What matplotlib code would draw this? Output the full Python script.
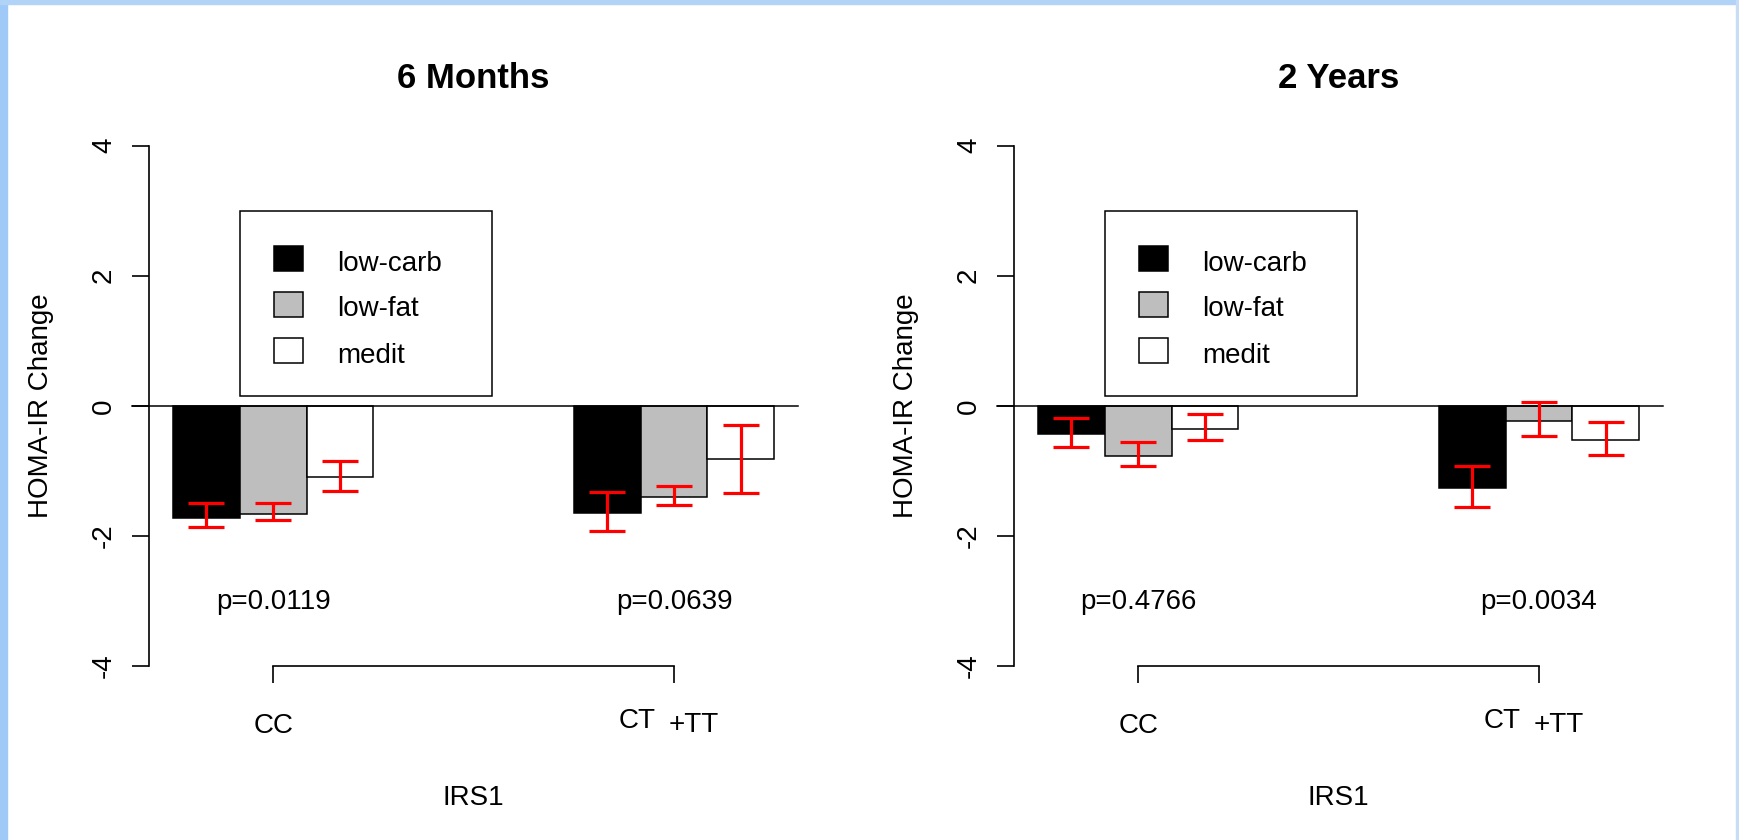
import matplotlib
matplotlib.use("Agg")
import numpy as np
import matplotlib.pyplot as plt
from matplotlib.patches import Rectangle

plt.rcParams['font.family'] = ['Liberation Sans', 'DejaVu Sans']

# HOMA-IR change by IRS1 genotype and diet
panels = ["6 Months", "2 Years"]
genotypes = ["CC", "CT+TT"]
diets = ["low-carb", "low-fat", "medit"]
diet_colors = ["black", "#bebebe", "white"]

# bar heights, ordered CC (low-carb, low-fat, medit), CT+TT (low-carb, low-fat, medit)
means_6m = [-1.72, -1.66, -1.10, -1.64, -1.40, -0.82]
means_2y = [-0.43, -0.77, -0.35, -1.27, -0.24, -0.52]
# error bar ends
err_lo_6m = [-1.87, -1.75, -1.31, -1.93, -1.53, -1.34]
err_hi_6m = [-1.50, -1.50, -0.85, -1.33, -1.24, -0.30]
err_lo_2y = [-0.64, -0.92, -0.53, -1.56, -0.47, -0.75]
err_hi_2y = [-0.19, -0.55, -0.12, -0.92, 0.06, -0.25]

pvals_6m = ["p=0.0119", "p=0.0639"]
pvals_2y = ["p=0.4766", "p=0.0034"]

yticks = [-4, -2, 0, 2, 4]

W, H = 1739, 840
fig = plt.figure(figsize=(W / 100, H / 100), dpi=100)

# blue window frame
fig.add_artist(Rectangle((0, 0), 7 / W, 1, transform=fig.transFigure, color="#9fcaf7", zorder=0))
fig.add_artist(Rectangle((0, 1 - 4 / H), 1, 4 / H, transform=fig.transFigure, color="#b0d3f7", zorder=0))
fig.add_artist(Rectangle((1 - 3 / W, 0), 3 / W, 1, transform=fig.transFigure, color="#c8dcf6", zorder=0))

bar_x = np.array([0.5, 1.5, 2.5, 6.5, 7.5, 8.5])
group_x = [1.5, 7.5]


def draw_panel(left_px, title, means, lo, hi, pvals):
    ax = fig.add_axes([left_px / W, (H - 666) / H, 649.3 / W, 520.3 / H])
    ax.set_xlim(-0.36, 9.36)
    ax.set_ylim(-4, 4)
    ax.patch.set_alpha(0)

    means = np.array(means)
    lo = np.array(lo)
    hi = np.array(hi)
    cols = diet_colors * 2
    ax.bar(bar_x, means, width=1, color=cols, edgecolor="black", linewidth=1.1, zorder=2)
    ax.plot([-0.614, 9.36], [0, 0], color="black", lw=1.1, clip_on=False, zorder=3)
    ax.errorbar(bar_x, means, yerr=[means - lo, hi - means], fmt="none",
                ecolor="red", elinewidth=2.3, capsize=12.8, capthick=2.3, zorder=4)

    # legend box
    ax.add_patch(Rectangle((1.0, 0.15), 3.78, 2.85, facecolor="white",
                           edgecolor="black", lw=1.1, zorder=5))
    row_y = [2.268, 1.564, 0.846]
    text_y = [2.076, 1.384, 0.657]
    for name, c, ry, ty in zip(diets, diet_colors, row_y, text_y):
        ax.add_patch(Rectangle((1.51, ry - 0.192), 0.43, 0.384, facecolor=c,
                               edgecolor="black", lw=1.1, zorder=6))
        ax.text(2.45, ty, name, fontsize=20, va="baseline", ha="left", zorder=6)

    for gx, p in zip(group_x, pvals):
        ax.text(gx, -3.13, p, fontsize=20, ha="center", va="baseline")

    for s in ["top", "right"]:
        ax.spines[s].set_visible(False)
    ax.spines["left"].set_bounds(-4, 4)
    ax.spines["bottom"].set_bounds(group_x[0], group_x[1])
    for s in ["left", "bottom"]:
        ax.spines[s].set_linewidth(1.2)

    ax.set_yticks(yticks)
    ax.set_yticklabels([str(t) for t in yticks], rotation=90, va="center")
    ax.set_xticks(group_x)
    ax.set_xticklabels(["CC", ""])
    ax.tick_params(axis="y", length=11.9, width=1.2, pad=11.2, labelsize=20)
    ax.tick_params(axis="x", length=11.9, width=1.2, pad=21.7, labelsize=20)

    ax.text(6.95, -4.96, "CT", fontsize=20, ha="center", va="baseline", clip_on=False)
    ax.text(7.79, -5.01, "+TT", fontsize=20, ha="center", va="baseline", clip_on=False)

    ax.set_ylabel("HOMA-IR Change", fontsize=20)
    ax.yaxis.set_label_coords(-0.146, 0.5)
    ax.set_xlabel("IRS1", fontsize=20)
    ax.xaxis.set_label_coords(0.5, -0.228)
    ax.set_title(title, fontsize=25, fontweight="bold", pad=41.3)
    return ax


draw_panel(149, panels[0], means_6m, err_lo_6m, err_hi_6m, pvals_6m)
draw_panel(1014, panels[1], means_2y, err_lo_2y, err_hi_2y, pvals_2y)

fig.savefig("out.png", dpi=100, facecolor="white")
